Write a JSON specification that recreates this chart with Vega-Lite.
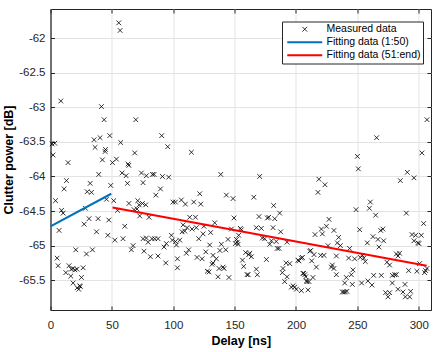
{
  "$schema": "https://vega.github.io/schema/vega-lite/v6.json",
  "width": 380.5,
  "height": 301,
  "autosize": "none",
  "padding": {"left": 50.5, "top": 9, "right": 12, "bottom": 42},
  "background": "white",
  "datasets": {
    "meas": [
      {"d":55.6,"p":-61.78},{"d":56.7,"p":-61.89},{"d":8.4,"p":-62.91},{"d":41.5,"p":-62.99},{"d":43.7,"p":-63.18},{"d":69.5,"p":-63.18},
      {"d":1.3,"p":-63.53},{"d":3.5,"p":-63.52},{"d":35.5,"p":-63.47},{"d":40.4,"p":-63.44},{"d":48.3,"p":-63.41},{"d":57.2,"p":-63.51},
      {"d":90.6,"p":-63.41},{"d":95.5,"p":-63.57},{"d":36.3,"p":-63.58},{"d":44.8,"p":-63.61},{"d":2.1,"p":-63.69},{"d":14.3,"p":-63.8},
      {"d":42.3,"p":-63.76},{"d":50.5,"p":-63.8},{"d":53.7,"p":-63.75},{"d":63.2,"p":-63.82},{"d":68.6,"p":-63.66},{"d":44.5,"p":-63.64},
      {"d":63.8,"p":-63.84},{"d":58.3,"p":-63.95},{"d":61.6,"p":-63.99},{"d":62.7,"p":-64.1},{"d":39.3,"p":-63.97},{"d":49.1,"p":-64.13},
      {"d":32.3,"p":-64.1},{"d":29.9,"p":-64.22},{"d":33.4,"p":-64.23},{"d":13.0,"p":-64.06},{"d":11.1,"p":-64.18},{"d":4.1,"p":-64.35},
      {"d":9.0,"p":-64.49},{"d":10.3,"p":-64.53},{"d":7.0,"p":-64.78},{"d":45.6,"p":-64.33},{"d":28.5,"p":-64.46},{"d":51.5,"p":-64.35},
      {"d":54.6,"p":-64.49},{"d":31.4,"p":-64.61},{"d":38.8,"p":-64.61},{"d":47.5,"p":-64.63},{"d":27.4,"p":-64.69},{"d":37.5,"p":-64.8},
      {"d":46.7,"p":-64.85},{"d":52.4,"p":-64.92},{"d":60.5,"p":-64.72},{"d":59.1,"p":-64.9},{"d":20.6,"p":-65.06},{"d":34.2,"p":-65.06},
      {"d":29.3,"p":-65.12},{"d":5.4,"p":-65.18},{"d":6.2,"p":-65.29},{"d":12.5,"p":-65.39},{"d":15.1,"p":-65.29},{"d":17.0,"p":-65.34},
      {"d":18.3,"p":-65.33},{"d":19.9,"p":-65.35},{"d":21.6,"p":-65.34},{"d":26.6,"p":-65.32},{"d":16.5,"p":-65.44},{"d":25.2,"p":-65.46},
      {"d":18.4,"p":-65.54},{"d":21.7,"p":-65.61},{"d":23.9,"p":-65.58},{"d":23.0,"p":-65.63},{"d":24.2,"p":-65.59},{"d":65.9,"p":-65.06},
      {"d":67.3,"p":-65.0},{"d":75.4,"p":-64.9},{"d":78.1,"p":-64.89},{"d":82.7,"p":-64.9},{"d":84.9,"p":-64.9},{"d":87.6,"p":-64.9},
      {"d":79.5,"p":-64.95},{"d":76.2,"p":-65.08},{"d":81.4,"p":-65.16},{"d":87.6,"p":-65.15},{"d":92.5,"p":-65.02},{"d":94.4,"p":-64.97},
      {"d":93.9,"p":-65.25},{"d":98.5,"p":-64.85},{"d":99.3,"p":-64.92},{"d":101.8,"p":-64.94},{"d":103.4,"p":-65.19},{"d":103.4,"p":-65.32},
      {"d":63.9,"p":-64.39},{"d":71.1,"p":-64.35},{"d":72.2,"p":-64.41},{"d":70.5,"p":-64.47},{"d":72.7,"p":-64.57},{"d":74.9,"p":-64.39},
      {"d":77.6,"p":-64.41},{"d":68.1,"p":-64.48},{"d":80.3,"p":-64.59},{"d":74.1,"p":-63.95},{"d":75.4,"p":-64.09},{"d":78.1,"p":-63.99},
      {"d":83.1,"p":-63.97},{"d":84.4,"p":-63.97},{"d":91.2,"p":-64.0},{"d":85.8,"p":-64.27},{"d":89.6,"p":-64.18},{"d":96.3,"p":-64.01},
      {"d":99.8,"p":-64.37},{"d":101.8,"p":-64.37},
      {"d":114.8,"p":-63.65},{"d":138.7,"p":-63.97},{"d":170.4,"p":-64.0},{"d":106.6,"p":-64.34},{"d":109.9,"p":-64.4},{"d":116.7,"p":-64.37},
      {"d":122.4,"p":-64.4},{"d":121.6,"p":-64.25},{"d":143.3,"p":-64.27},{"d":148.7,"p":-64.32},{"d":165.6,"p":-64.3},{"d":181.8,"p":-64.42},
      {"d":186.7,"p":-64.53},{"d":113.4,"p":-64.59},{"d":118.1,"p":-64.59},{"d":108.0,"p":-64.7},{"d":111.3,"p":-64.74},{"d":115.3,"p":-64.76},
      {"d":118.8,"p":-64.74},{"d":109.4,"p":-64.79},{"d":107.2,"p":-64.8},{"d":125.0,"p":-64.72},{"d":124.3,"p":-64.83},{"d":130.5,"p":-64.81},
      {"d":133.8,"p":-64.67},{"d":149.5,"p":-64.6},{"d":147.4,"p":-64.76},{"d":154.7,"p":-64.75},{"d":155.5,"p":-64.77},{"d":153.3,"p":-64.85},
      {"d":151.5,"p":-64.91},{"d":152.2,"p":-64.95},{"d":150.6,"p":-64.97},{"d":152.8,"p":-64.98},{"d":144.6,"p":-64.91},{"d":139.2,"p":-64.98},
      {"d":142.8,"p":-65.06},{"d":138.0,"p":-65.07},{"d":129.7,"p":-64.99},{"d":126.5,"p":-65.09},{"d":120.8,"p":-64.9},{"d":112.6,"p":-65.06},
      {"d":110.7,"p":-65.11},{"d":102.6,"p":-64.99},{"d":105.3,"p":-64.92},{"d":119.4,"p":-65.17},{"d":123.5,"p":-65.19},{"d":132.4,"p":-65.14},
      {"d":135.1,"p":-65.19},{"d":132.4,"p":-65.25},{"d":131.6,"p":-65.27},{"d":137.3,"p":-65.33},{"d":140.5,"p":-65.31},{"d":141.4,"p":-65.33},
      {"d":127.8,"p":-65.37},{"d":129.2,"p":-65.38},{"d":136.5,"p":-65.45},{"d":145.4,"p":-65.46},{"d":156.4,"p":-65.21},{"d":157.4,"p":-65.3},
      {"d":159.0,"p":-65.1},{"d":162.3,"p":-65.11},{"d":163.7,"p":-65.16},{"d":161.5,"p":-65.13},{"d":160.1,"p":-65.42},{"d":161.0,"p":-65.42},
      {"d":168.5,"p":-65.42},{"d":167.7,"p":-65.34},{"d":175.9,"p":-65.2},{"d":167.7,"p":-64.74},{"d":171.8,"p":-64.75},{"d":174.5,"p":-64.9},
      {"d":172.6,"p":-64.89},{"d":169.9,"p":-64.58},{"d":176.7,"p":-64.6},{"d":177.8,"p":-64.59},{"d":181.3,"p":-64.74},{"d":182.7,"p":-64.61},
      {"d":187.5,"p":-64.8},{"d":180.0,"p":-64.93},{"d":178.6,"p":-64.98},{"d":183.9,"p":-64.94},{"d":184.7,"p":-65.04},{"d":186.2,"p":-65.04},
      {"d":192.7,"p":-64.95},{"d":192.0,"p":-65.25},{"d":194.9,"p":-65.26},{"d":189.4,"p":-65.33},{"d":188.9,"p":-65.39},{"d":192.7,"p":-65.45},
      {"d":190.8,"p":-65.52},{"d":201.6,"p":-65.21},{"d":202.4,"p":-65.22},{"d":205.2,"p":-65.17},{"d":197.6,"p":-65.58},{"d":198.9,"p":-65.6},
      {"d":200.3,"p":-65.63},{"d":196.2,"p":-65.6},{"d":206.3,"p":-65.4},{"d":207.9,"p":-65.45},{"d":209.0,"p":-65.52},{"d":209.8,"p":-65.64},
      {"d":211.2,"p":-65.08},
      {"d":306.7,"p":-63.18},{"d":265.7,"p":-63.44},{"d":302.6,"p":-63.66},{"d":250.0,"p":-63.71},{"d":250.8,"p":-63.89},{"d":290.7,"p":-63.94},
      {"d":296.1,"p":-64.02},{"d":285.0,"p":-64.06},{"d":218.7,"p":-64.04},{"d":223.6,"p":-64.12},{"d":217.9,"p":-64.23},{"d":260.6,"p":-64.37},
      {"d":259.8,"p":-64.46},{"d":264.9,"p":-64.56},{"d":248.9,"p":-64.48},{"d":289.9,"p":-64.53},{"d":304.0,"p":-64.68},{"d":226.9,"p":-64.62},
      {"d":224.8,"p":-64.72},{"d":220.7,"p":-64.76},{"d":230.9,"p":-64.78},{"d":251.9,"p":-64.77},{"d":269.0,"p":-64.78},{"d":270.8,"p":-64.76},
      {"d":215.5,"p":-64.84},{"d":221.5,"p":-64.83},{"d":234.8,"p":-64.88},{"d":233.7,"p":-64.96},{"d":236.2,"p":-65.0},{"d":262.7,"p":-64.87},
      {"d":266.8,"p":-64.91},{"d":271.4,"p":-64.93},{"d":258.1,"p":-64.96},{"d":267.6,"p":-65.02},{"d":294.5,"p":-64.84},{"d":297.5,"p":-64.85},
      {"d":302.1,"p":-64.85},{"d":296.1,"p":-64.93},{"d":299.3,"p":-64.96},{"d":300.2,"p":-64.97},{"d":243.7,"p":-65.04},{"d":226.1,"p":-65.0},
      {"d":212.0,"p":-65.07},{"d":214.7,"p":-65.13},{"d":220.1,"p":-65.14},{"d":222.8,"p":-65.14},{"d":232.9,"p":-65.15},{"d":254.1,"p":-65.14},
      {"d":255.2,"p":-65.18},{"d":256.5,"p":-65.23},{"d":252.4,"p":-65.17},{"d":281.8,"p":-65.12},{"d":284.4,"p":-65.11},{"d":283.1,"p":-65.15},
      {"d":242.9,"p":-65.18},{"d":247.8,"p":-65.19},{"d":246.4,"p":-65.35},{"d":212.8,"p":-65.22},{"d":216.6,"p":-65.31},{"d":228.8,"p":-65.31},
      {"d":230.9,"p":-65.33},{"d":229.6,"p":-65.28},{"d":274.1,"p":-65.24},{"d":276.3,"p":-65.28},{"d":280.4,"p":-65.42},{"d":278.5,"p":-65.43},
      {"d":281.8,"p":-65.42},{"d":291.8,"p":-65.36},{"d":298.5,"p":-65.37},{"d":300.7,"p":-65.26},{"d":305.6,"p":-65.36},{"d":306.7,"p":-65.33},
      {"d":304.8,"p":-65.39},{"d":263.3,"p":-65.43},{"d":269.5,"p":-65.43},{"d":261.9,"p":-65.57},{"d":258.6,"p":-65.51},{"d":253.5,"p":-65.54},
      {"d":241.0,"p":-65.46},{"d":245.1,"p":-65.42},{"d":239.7,"p":-65.54},{"d":238.8,"p":-65.67},{"d":237.8,"p":-65.67},{"d":240.2,"p":-65.67},
      {"d":241.5,"p":-65.66},{"d":245.9,"p":-65.56},{"d":273.0,"p":-65.68},{"d":276.3,"p":-65.68},{"d":275.0,"p":-65.74},{"d":278.5,"p":-65.54},
      {"d":283.1,"p":-65.63},{"d":287.2,"p":-65.67},{"d":288.8,"p":-65.56},{"d":289.1,"p":-65.74},{"d":292.6,"p":-65.74},{"d":293.4,"p":-65.66},
      {"d":205.7,"p":-65.4},{"d":207.1,"p":-65.42},{"d":208.5,"p":-65.51},{"d":210.6,"p":-65.52},{"d":213.8,"p":-65.46},{"d":204.4,"p":-65.65},
      {"d":204.4,"p":-65.18},{"d":232.9,"p":-65.42}
    ],
    "fit": [
      {"d":0,"p":-64.72,"s":"Fitting data (1:50)"},
      {"d":49.5,"p":-64.25,"s":"Fitting data (1:50)"},
      {"d":50.5,"p":-64.45,"s":"Fitting data (51:end)"},
      {"d":306.5,"p":-65.29,"s":"Fitting data (51:end)"}
    ]
  },
  "layer": [
    {
      "data": {"name": "meas"},
      "mark": {"type": "point", "filled": false, "size": 61, "opacity": 1},
      "encoding": {
        "x": {"field": "d", "type": "quantitative",
          "scale": {"domain": [0, 310], "nice": false, "zero": false},
          "axis": {"title": "Delay [ns]", "values": [0,50,100,150,200,250,300], "tickSize": -4, "labelPadding": 13, "titlePadding": 3.5, "labelFlush": false}},
        "y": {"field": "p", "type": "quantitative",
          "scale": {"domain": [-65.93, -61.58], "nice": false, "zero": false},
          "axis": {"title": "Clutter power [dB]", "values": [-65.5,-65,-64.5,-64,-63.5,-63,-62.5,-62], "tickSize": -4, "labelPadding": 9.5, "titlePadding": 3, "labelFlush": false,
            "labelExpr": "replace(format(datum.value, '~g'), '\u2212', '-')"}},
        "color": {"datum": "Measured data", "type": "nominal",
          "scale": {"domain": ["Measured data", "Fitting data (1:50)", "Fitting data (51:end)"], "range": ["#000000", "#0072BD", "#FF0000"]},
          "legend": {
            "title": null, "orient": "none", "legendX": 231.5, "legendY": 12.5,
            "padding": 2.5, "rowPadding": 2, "symbolSize": 64, "symbolOffset": 15, "labelOffset": 16.5,
            "labelFont": "Liberation Sans", "labelFontSize": 10.5, "labelColor": "#000000",
            "strokeColor": "#262626", "fillColor": "#ffffff"
          }},
        "shape": {"datum": "Measured data", "type": "nominal",
          "scale": {"domain": ["Measured data", "Fitting data (1:50)", "Fitting data (51:end)"],
                    "range": ["M-0.6,-0.6L0.6,0.6M-0.6,0.6L0.6,-0.6", "M-4.375,0L4.375,0", "M-4.375,0L4.375,0"]},
          "legend": {"title": null}},
        "strokeWidth": {"datum": "Measured data", "type": "nominal",
          "scale": {"type": "ordinal", "domain": ["Measured data", "Fitting data (1:50)", "Fitting data (51:end)"], "range": [0.8, 2, 2]},
          "legend": {"title": null}}
      }
    },
    {
      "data": {"name": "fit"},
      "mark": {"type": "line", "strokeWidth": 2},
      "encoding": {
        "x": {"field": "d", "type": "quantitative",
          "axis": {"orient": "top", "labels": false, "title": null, "grid": false, "domain": false, "tickSize": -4, "values": [0,50,100,150,200,250,300]}},
        "y": {"field": "p", "type": "quantitative",
          "axis": {"orient": "right", "labels": false, "title": null, "grid": false, "domain": false, "tickSize": -4, "values": [-65.5,-65,-64.5,-64,-63.5,-63,-62.5,-62]}},
        "color": {"field": "s", "type": "nominal", "legend": null},
        "detail": {"field": "s"}
      }
    }
  ],
  "resolve": {"axis": {"x": "independent", "y": "independent"}},
  "config": {
    "view": {"stroke": "#262626", "strokeWidth": 1},
    "font": "Liberation Sans",
    "axis": {
      "domainColor": "#262626", "domainWidth": 1, "tickColor": "#262626", "tickWidth": 1,
      "gridColor": "#e3e3e3", "gridWidth": 1,
      "labelColor": "#262626", "labelFont": "Liberation Sans", "labelFontSize": 11.5,
      "titleColor": "#000000", "titleFont": "Liberation Sans", "titleFontSize": 12.5, "titleFontWeight": "bold"
    }
  }
}
